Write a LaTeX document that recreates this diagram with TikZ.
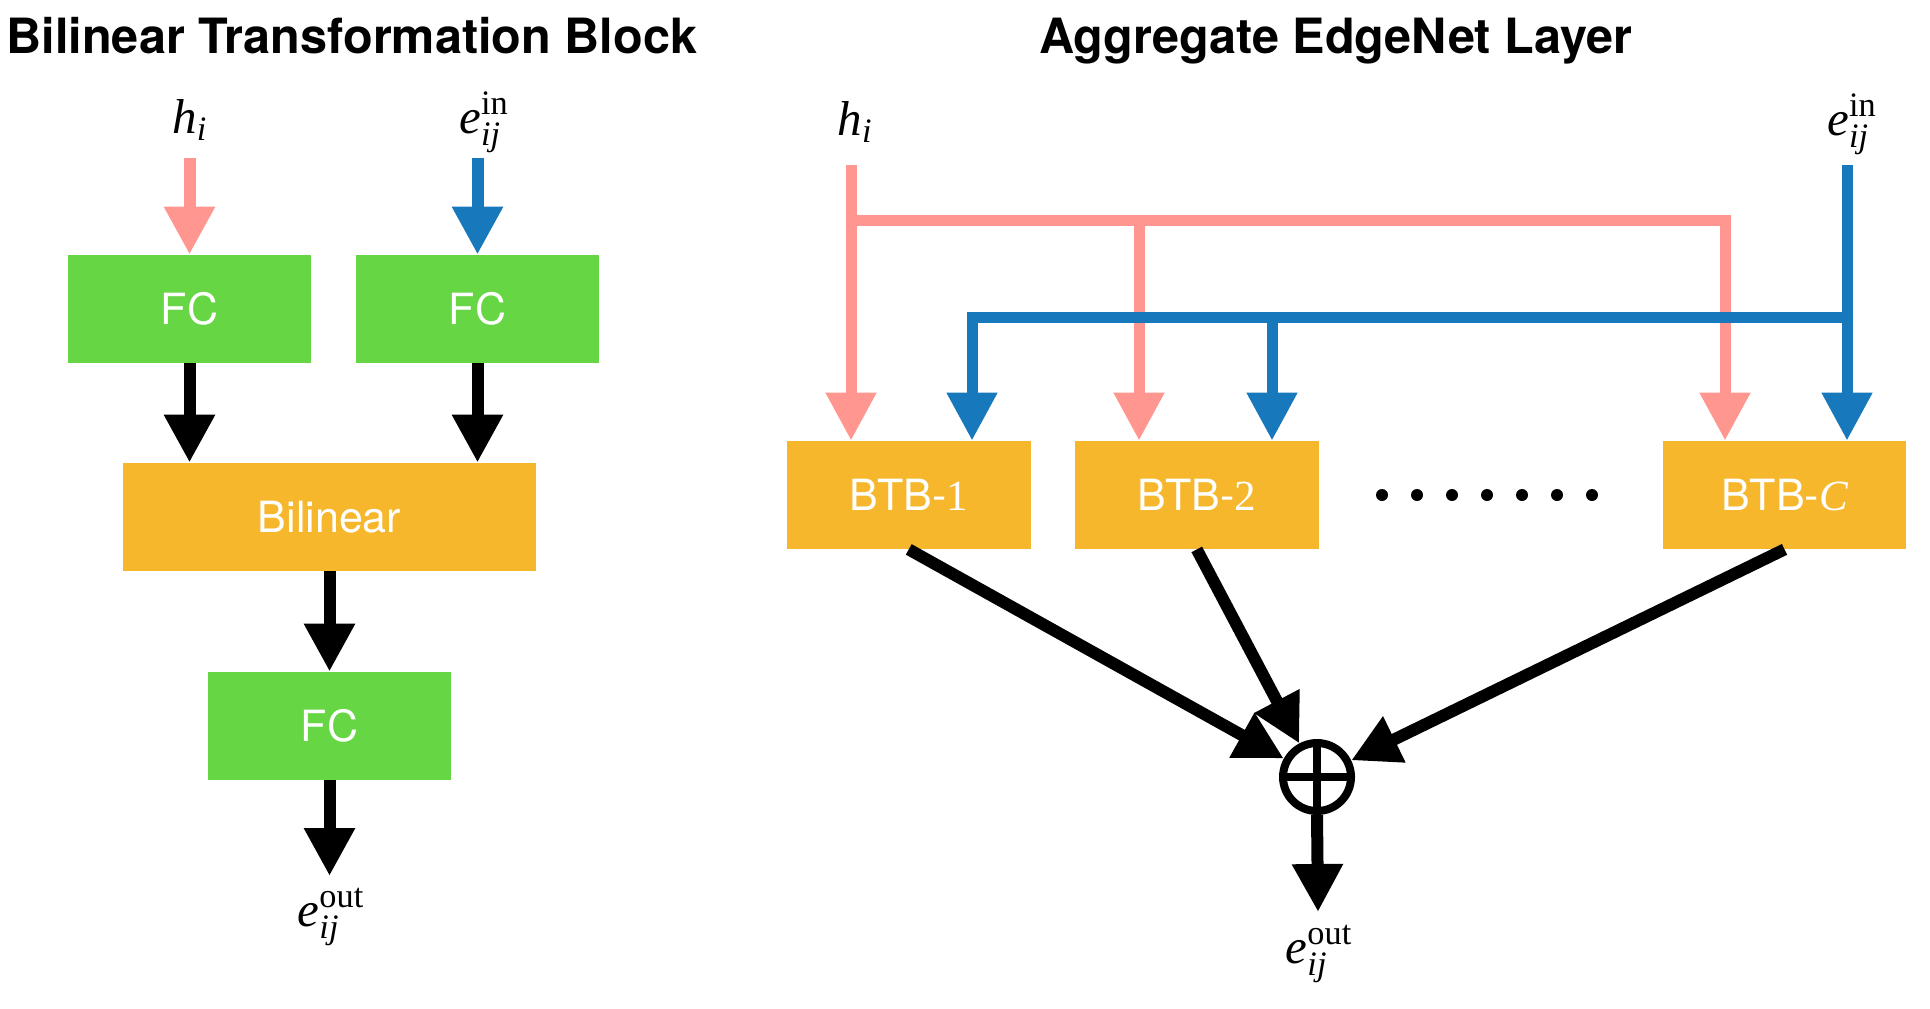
\documentclass[tikz,border=0pt]{standalone}
\usepackage{amsmath}
\usepackage{fontspec}
\setmainfont{Liberation Serif}
\setsansfont{TeX Gyre Heros}
\usetikzlibrary{arrows.meta}
\definecolor{pinkc}{HTML}{FF968F}
\definecolor{bluec}{HTML}{1779BC}
\definecolor{greenc}{HTML}{66D645}
\definecolor{orangec}{HTML}{F6B72D}
\begin{document}
\begin{tikzpicture}[x=0.5pt,y=-0.5pt,
  blk/.style={inner sep=0, text=white, font=\sffamily\fontsize{21.5}{24}\selectfont, minimum height=54pt},
  gbox/.style={blk, fill=greenc, minimum width=121.5pt},
  obox/.style={blk, fill=orangec, minimum width=121.75pt},
  lbl/.style={inner sep=0, anchor=base, font=\fontsize{24.5}{28}\selectfont},
  ttl/.style={inner sep=0, anchor=base, font=\sffamily\bfseries\fontsize{24.3}{28}\selectfont},
  arr/.style={line width=6pt, -{Triangle[width=24pt,length=24pt]}},
  blackarr/.style={arr, draw=black},
  pinkarr/.style={arr, draw=pinkc},
  bluearr/.style={arr, draw=bluec},
  pinkarrR/.style={arr, draw=pinkc, line width=5.5pt},
  bluearrR/.style={arr, draw=bluec, line width=5.5pt},
  plusnode/.style={circle, draw=black, line width=4pt, inner sep=0, minimum size=34pt,
    path picture={\draw[line width=3.6pt] (path picture bounding box.north) -- (path picture bounding box.south)
      (path picture bounding box.west) -- (path picture bounding box.east);}},
  dotc/.style={circle, fill=black, inner sep=0, minimum size=6pt}
]
\useasboundingbox (0,0) rectangle (1930,1008);

% ---------------- Left: Bilinear Transformation Block
\node[ttl] (t1) at (352,53) {Bilinear Transformation Block};
\node[lbl] (hL) at (190,133) {$\textit{h}_{\textit{i}}$};
\node[lbl] (eL) at (484,133) {$\textit{e}_{\textit{ij}}^{\textrm{in}}$};
\coordinate (hLs) at (189.5,158);
\coordinate (eLs) at (477.5,158);

\node[gbox] (fc1) at (189.5,309) {FC};
\node[gbox] (fc2) at (477.5,309) {FC};
\node[obox, minimum width=206.5pt] (bil) at (329.5,517) {Bilinear};
\node[gbox] (fc3) at (329.5,726) {FC};
\coordinate (outL) at (329.5,876);
\node[lbl] (eoL) at (331,926) {$\textit{e}_{\textit{ij}}^{\textrm{out}}$};

\draw[pinkarr] (hLs) -- (fc1.north);
\draw[bluearr] (eLs) -- (fc2.north);
\draw[blackarr] (fc1.south) -- (fc1.south |- bil.north);
\draw[blackarr] (fc2.south) -- (fc2.south |- bil.north);
\draw[blackarr] (bil.south) -- (fc3.north);
\draw[blackarr] (fc3.south) -- (outL);

% ---------------- Right: Aggregate EdgeNet Layer
\node[ttl] (t2) at (1336,53) {Aggregate EdgeNet Layer};
\node[lbl] (hR) at (855,135) {$\textit{h}_{\textit{i}}$};
\node[lbl] (eR) at (1852,135) {$\textit{e}_{\textit{ij}}^{\textrm{in}}$};
\coordinate (hRs) at (851,165);
\coordinate (eRs) at (1847,165);

\node[obox] (btb1) at (908.75,495) {BTB-{\rmfamily 1}};
\node[obox] (btb2) at (1196.75,495) {BTB-{\rmfamily 2}};
\node[obox] (btbC) at (1784.5,495) {BTB-{\rmfamily\itshape C}};
\foreach \i in {0,...,6} {
  \node[dotc] (dot\i) at (1382+35*\i,495) {};
}

\coordinate (pJ0) at (851,220);
\coordinate (pJ2) at (1139,220);
\coordinate (pJC) at (1725,220);
\coordinate (bJR) at (1847,317);
\coordinate (bJ1) at (972,317);
\coordinate (bJ2) at (1272,317);

% pink network
\draw[pinkarrR] (hRs) -- (hRs |- btb1.north);
\draw[pinkarrR] (pJ0) -| (pJC |- btbC.north);
\draw[pinkarrR] (pJ2) -- (pJ2 |- btb2.north);
% blue network
\draw[bluearrR] (eRs) -- (eRs |- btbC.north);
\draw[bluearrR] (bJR) -| (bJ1 |- btb1.north);
\draw[bluearrR] (bJ2) -- (bJ2 |- btb2.north);

\node[plusnode] (plus) at (1317,777) {};
\draw[blackarr] (btb1.south) -- (plus);
\draw[blackarr] (btb2.south) -- (plus);
\draw[blackarr] (btbC.south) -- (plus);
\coordinate (outR) at (1318,912);
\draw[blackarr] (plus.south) -- (outR);
\node[lbl] (eoR) at (1319,963) {$\textit{e}_{\textit{ij}}^{\textrm{out}}$};
\end{tikzpicture}
\end{document}
